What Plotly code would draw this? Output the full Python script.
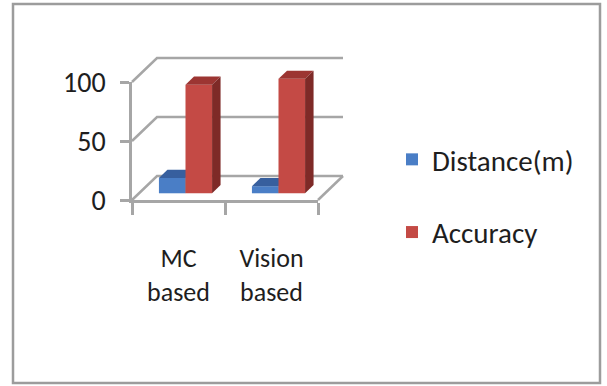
import plotly.graph_objects as go

# ---------------- data ----------------
categories = ["MC<br>based", "Vision<br>based"]
distance = [13, 6]
accuracy = [92, 97]
series_names = ["Distance(m)", "Accuracy"]
y_ticks = [0, 50, 100]

front_colors = ["#4A7EC6", "#C44A45"]
top_colors = ["#375F9E", "#9C3532"]
side_colors = ["#2C4F80", "#7E2A27"]

# ---------------- geometry (pixel layout) ----------------
W, H = 607, 386
X0_PX, CAT_PX = 132, 93        # left edge of front floor, pixels per category
Y0_PX, VAL_PX = 200, 1.18      # front floor line, pixels per value unit
x_range = [-0.5 - X0_PX / CAT_PX, -0.5 + (W - X0_PX) / CAT_PX]
y_range = [-(H - Y0_PX) / VAL_PX, Y0_PX / VAL_PX]
DX, DY = 25 / CAT_PX, 24 / VAL_PX   # full depth offset in data units
BAR_W = 1 / 3.5
F0, F1 = 0.28, 0.62                  # bar depth (fraction of full depth)
GRID = "#A6A6A6"
FONT = "Carlito, Calibri, Lato, sans-serif"
TXT = "#1E1E1E"

fig = go.Figure()

# back wall / side wall gridlines (base subplot)
xmax = len(categories) - 0.5
for v in y_ticks:
    fig.add_trace(go.Scatter(x=[-0.5, -0.5 + DX, xmax + DX], y=[v, v + DY, v + DY],
                             mode="lines", line=dict(color=GRID, width=2.5),
                             showlegend=False, hoverinfo="skip", xaxis="x", yaxis="y"))
fig.add_trace(go.Scatter(x=[xmax, xmax + DX], y=[0, DY], mode="lines",
                         line=dict(color=GRID, width=2.5), showlegend=False,
                         hoverinfo="skip", xaxis="x", yaxis="y"))

# bars: each series on its own overlaying subplot so later series hide earlier
all_series = [distance, accuracy]
for s, vals in enumerate(all_series):
    xa, ya = ("x3", "y3") if s == 0 else ("x4", "y4")
    lefts = [i - 0.5 + (1 - 2 * BAR_W) / 2 + s * BAR_W for i in range(len(vals))]
    centers = [l + BAR_W / 2 + F0 * DX for l in lefts]
    fig.add_trace(go.Bar(x=centers, y=vals, base=[F0 * DY] * len(vals), width=BAR_W,
                         marker=dict(color=front_colors[s], line=dict(width=0)),
                         name=series_names[s], legendgroup=series_names[s],
                         hoverinfo="skip", xaxis=xa, yaxis=ya))
    for l, v in zip(lefts, vals):
        r = l + BAR_W
        # top face
        fig.add_trace(go.Scatter(
            x=[l + F0 * DX, r + F0 * DX, r + F1 * DX, l + F1 * DX, l + F0 * DX],
            y=[v + F0 * DY, v + F0 * DY, v + F1 * DY, v + F1 * DY, v + F0 * DY],
            fill="toself", fillcolor=top_colors[s], mode="lines", line=dict(width=0),
            showlegend=False, hoverinfo="skip", xaxis=xa, yaxis=ya))
        # side face
        fig.add_trace(go.Scatter(
            x=[r + F0 * DX, r + F1 * DX, r + F1 * DX, r + F0 * DX, r + F0 * DX],
            y=[F0 * DY, F1 * DY, v + F1 * DY, v + F0 * DY, F0 * DY],
            fill="toself", fillcolor=side_colors[s], mode="lines", line=dict(width=0),
            showlegend=False, hoverinfo="skip", xaxis=xa, yaxis=ya))

# invisible trace to carry the labelled front axes
fig.add_trace(go.Scatter(x=categories, y=[0] * len(categories), mode="markers",
                         marker=dict(opacity=0), showlegend=False, hoverinfo="skip",
                         xaxis="x2", yaxis="y2"))

hidden = dict(visible=False, showgrid=False, zeroline=False, fixedrange=True)
fig.update_layout(
    width=W, height=H, margin=dict(l=0, r=0, t=0, b=0, pad=0, autoexpand=False),
    paper_bgcolor="white", plot_bgcolor="rgba(0,0,0,0)",
    barmode="overlay",
    xaxis=dict(domain=[0, 1], range=x_range, **hidden),
    yaxis=dict(domain=[0, 1], range=y_range, **hidden),
    xaxis3=dict(overlaying="x", range=x_range, **hidden),
    yaxis3=dict(overlaying="y", range=y_range, **hidden),
    xaxis4=dict(overlaying="x", range=x_range, **hidden),
    yaxis4=dict(overlaying="y", range=y_range, **hidden),
    xaxis2=dict(domain=[X0_PX / W, (X0_PX + len(categories) * CAT_PX) / W],
                anchor="y2", type="category", categoryarray=categories,
                range=[-0.5, len(categories) - 0.5], tickson="boundaries",
                ticks="outside", ticklen=12, tickwidth=2.5, tickcolor=GRID,
                showline=True, linecolor=GRID, linewidth=2.5, showgrid=False,
                zeroline=False, ticklabelstandoff=33, automargin=False,
                tickfont=dict(family=FONT, size=26, color=TXT)),
    yaxis2=dict(domain=[(H - Y0_PX) / H, (H - Y0_PX + 100 * VAL_PX) / H],
                anchor="x2", range=[0, 100], tickvals=y_ticks,
                ticks="outside", ticklen=9, tickwidth=2.5, tickcolor=GRID,
                showline=True, linecolor=GRID, linewidth=2.5, showgrid=False,
                zeroline=False, ticklabelstandoff=9, automargin=False,
                tickfont=dict(family=FONT, size=28, color=TXT)),
    legend=dict(x=392 / W, y=1 - 134 / H, xanchor="left", yanchor="top",
                font=dict(family=FONT, size=29, color=TXT), tracegroupgap=32,
                bgcolor="rgba(0,0,0,0)", itemwidth=30),
    shapes=[dict(type="rect", xref="paper", yref="paper",
                 x0=13 / W, x1=600 / W, y0=1 - 383 / H, y1=1 - 4 / H,
                 line=dict(color="#9C9C9C", width=2.5))],
    showlegend=True,
)

fig.write_html("out.html")
